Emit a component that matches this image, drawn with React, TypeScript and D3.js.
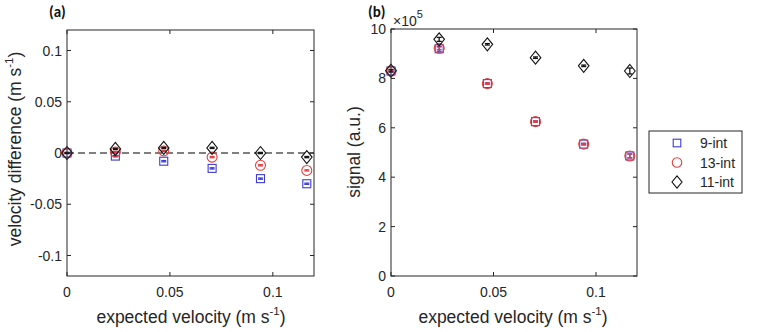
import React from "react";
import * as d3 from "d3";

const velocities = [0, 0.0235, 0.047, 0.0705, 0.094, 0.1165];
const diff9 = [0, -0.003, -0.008, -0.015, -0.025, -0.03];
const diff13 = [0, 0.001, 0.002, -0.004, -0.012, -0.017];
const diff11 = [0, 0.004, 0.005, 0.005, 0, -0.004];
const diffErr9 = [0.0005, 0.0006, 0.0006, 0.0006, 0.0006, 0.0006];
const diffErr13 = [0.0005, 0.0006, 0.0006, 0.0006, 0.0006, 0.0006];
const diffErr11 = [0.0005, 0.0006, 0.0006, 0.0006, 0.0006, 0.0006];
const signal9 = [8.3, 9.2, 7.79, 6.25, 5.34, 4.86];
const signal13 = [8.3, 9.22, 7.79, 6.25, 5.34, 4.86];
const signal11 = [8.31, 9.58, 9.38, 8.84, 8.51, 8.3];
const sigErr9 = [0.03, 0.1, 0.03, 0.03, 0.03, 0.08];
const sigErr13 = [0.03, 0.05, 0.03, 0.03, 0.03, 0.08];
const sigErr11 = [0.05, 0.08, 0.03, 0.03, 0.03, 0.12];
const xTicks = [0, 0.05, 0.1];
const xTickLabels = ["0", "0.05", "0.1"];
const leftYTicks = [-0.1, -0.05, 0, 0.05, 0.1];
const leftYTickLabels = ["-0.1", "-0.05", "0", "0.05", "0.1"];
const rightYTicks = [0, 2, 4, 6, 8, 10];
const rightYTickLabels = ["0", "2", "4", "6", "8", "10"];
const seriesNames = ["9-int", "13-int", "11-int"];

const BLUE = "#3c3cd8";
const RED = "#e04040";
const BLACK = "#111";
const AX = "#262626";
const FONT = "'Liberation Sans', Arial, sans-serif";
const BOLDFONT = "Carlito, 'Liberation Sans', sans-serif";

type Shape = "square" | "circle" | "diamond";

function Marker({ x, y, shape, color, s = 1 }: { x: number; y: number; shape: Shape; color: string; s?: number }) {
  if (shape === "square")
    return <rect x={x - 4 * s} y={y - 4 * s} width={8 * s} height={8 * s} fill="none" stroke={color} strokeWidth={1.1} />;
  if (shape === "circle")
    return <circle cx={x} cy={y} r={5 * s} fill="none" stroke={color} strokeWidth={1.1} />;
  return (
    <path
      d={`M${x},${y - 6.5 * s}L${x + 5.3 * s},${y}L${x},${y + 6.5 * s}L${x - 5.3 * s},${y}Z`}
      fill="none"
      stroke={color}
      strokeWidth={1.1}
    />
  );
}

function ErrBar({ x, y1, y2, color }: { x: number; y1: number; y2: number; color: string }) {
  return (
    <g stroke={color} strokeWidth={1.3}>
      <line x1={x} x2={x} y1={y1} y2={y2} />
      <line x1={x - 2.5} x2={x + 2.5} y1={y1} y2={y1} />
      <line x1={x - 2.5} x2={x + 2.5} y1={y2} y2={y2} />
    </g>
  );
}

function Panel({
  left, right, top, bottom, yDomain, yTicks, yTickLabels, series, dashedZero,
}: {
  left: number; right: number; top: number; bottom: number;
  yDomain: [number, number]; yTicks: number[]; yTickLabels: string[];
  series: { vals: number[]; errs: number[]; shape: Shape; color: string }[];
  dashedZero?: boolean;
}) {
  const x = d3.scaleLinear().domain([0, 0.12]).range([left, right]);
  const y = d3.scaleLinear().domain(yDomain).range([bottom, top]);
  const tl = 4;
  return (
    <g>
      {dashedZero && (
        <line x1={x(0)} x2={x(0.12)} y1={y(0)} y2={y(0)} stroke="#555" strokeWidth={1.3} strokeDasharray="7,4" />
      )}
      {series.map((s, si) => (
        <g key={si}>
          {s.vals.map((v, i) => (
            <g key={i}>
              <Marker x={x(velocities[i])} y={y(v)} shape={s.shape} color={s.color} />
              <ErrBar x={x(velocities[i])} y1={y(v - s.errs[i])} y2={y(v + s.errs[i])} color={s.color} />
            </g>
          ))}
        </g>
      ))}
      <rect x={left} y={top} width={right - left} height={bottom - top} fill="none" stroke={AX} strokeWidth={1} />
      {xTicks.map((t, i) => (
        <g key={i}>
          <line x1={x(t)} x2={x(t)} y1={bottom} y2={bottom - tl} stroke={AX} />
          <line x1={x(t)} x2={x(t)} y1={top} y2={top + tl} stroke={AX} />
          <text x={x(t)} y={bottom + 21} textAnchor="middle" fontSize={14} fill={AX} fontFamily={FONT}>
            {xTickLabels[i]}
          </text>
        </g>
      ))}
      {yTicks.map((t, i) => (
        <g key={i}>
          <line x1={left} x2={left + tl} y1={y(t)} y2={y(t)} stroke={AX} />
          <line x1={right} x2={right - tl} y1={y(t)} y2={y(t)} stroke={AX} />
          <text x={left - 5} y={y(t) + 5} textAnchor="end" fontSize={14} fill={AX} fontFamily={FONT}>
            {yTickLabels[i]}
          </text>
        </g>
      ))}
    </g>
  );
}

export default function App() {
  const leftSeries = [
    { vals: diff9, errs: diffErr9, shape: "square" as Shape, color: BLUE },
    { vals: diff13, errs: diffErr13, shape: "circle" as Shape, color: RED },
    { vals: diff11, errs: diffErr11, shape: "diamond" as Shape, color: BLACK },
  ];
  const rightSeries = [
    { vals: signal9, errs: sigErr9, shape: "square" as Shape, color: BLUE },
    { vals: signal13, errs: sigErr13, shape: "circle" as Shape, color: RED },
    { vals: signal11, errs: sigErr11, shape: "diamond" as Shape, color: BLACK },
  ];
  const legendShapes: Shape[] = ["square", "circle", "diamond"];
  const legendColors = [BLUE, RED, BLACK];
  return (
    <svg width={770} height={332} style={{ position: "absolute", left: 0, top: 0, background: "#fff" }}>
      <rect width={770} height={332} fill="#fff" />
      <Panel left={67} right={314} top={30} bottom={276} yDomain={[-0.12, 0.12]}
        yTicks={leftYTicks} yTickLabels={leftYTickLabels} series={leftSeries} dashedZero />
      <Panel left={391} right={637} top={29} bottom={276} yDomain={[0, 10]}
        yTicks={rightYTicks} yTickLabels={rightYTickLabels} series={rightSeries} />
      <text x={49} y={17} fontSize={15} fontWeight="bold" fontFamily={BOLDFONT} fill="#111">(a)</text>
      <text x={368} y={17} fontSize={15} fontWeight="bold" fontFamily={BOLDFONT} fill="#111">(b)</text>
      <text x={393} y={26} fontSize={14} fill={AX} fontFamily={FONT}>
        ×10<tspan dy={-8} fontSize={11}>5</tspan>
      </text>
      {[191, 513].map((cx, i) => (
        <text key={i} x={cx} y={323} textAnchor="middle" fontSize={17.5} fill={AX} fontFamily={FONT}>
          expected velocity (m s<tspan dy={-8} fontSize={11.5}>-1</tspan><tspan dy={8}>)</tspan>
        </text>
      ))}
      <text transform="translate(21,149) rotate(-90)" textAnchor="middle" fontSize={17.5} fill={AX} fontFamily={FONT}>
        velocity difference (m s<tspan dy={-8} fontSize={11.5}>-1</tspan><tspan dy={8}>)</tspan>
      </text>
      <text transform="translate(360,152) rotate(-90)" textAnchor="middle" fontSize={17.5} fill={AX} fontFamily={FONT}>
        signal (a.u.)
      </text>
      <rect x={649} y={131} width={93} height={62} fill="#fff" stroke={AX} strokeWidth={1} />
      {seriesNames.map((n, i) => (
        <g key={i}>
          <Marker x={677} y={143 + i * 19.5} shape={legendShapes[i]} color={legendColors[i]} s={0.95} />
          <text x={700} y={148 + i * 19.5} fontSize={14} fill={AX} fontFamily={FONT}>{n}</text>
        </g>
      ))}
    </svg>
  );
}
